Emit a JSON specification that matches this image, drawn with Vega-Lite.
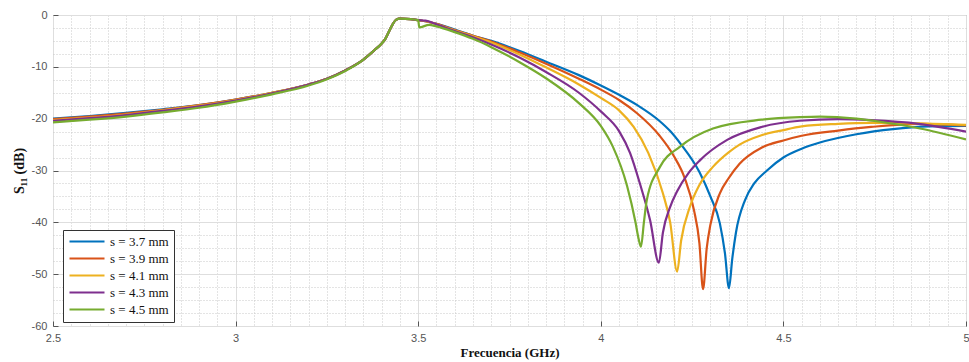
{
  "$schema": "https://vega.github.io/schema/vega-lite/v6.json",
  "autosize": {"type": "none"},
  "width": 913,
  "height": 311,
  "padding": {"left": 53, "top": 15, "right": 3, "bottom": 36},
  "background": "white",
  "config": {
    "view": {"stroke": "#8a8a8a", "strokeWidth": 1},
    "axis": {
      "domain": false,
      "ticks": true,
      "tickSize": -5,
      "labelFont": "Liberation Sans",
      "labelFontSize": 11,
      "labelColor": "#555555",
      "titleFont": "Liberation Serif",
      "titleColor": "#111111"
    }
  },
  "data": {"values": [
    {"s":"s = 3.7 mm","f":2.5,"v":-20.0},{"s":"s = 3.7 mm","f":2.6,"v":-19.5},{"s":"s = 3.7 mm","f":2.7,"v":-18.9},{"s":"s = 3.7 mm","f":2.8,"v":-18.2},{"s":"s = 3.7 mm","f":2.9,"v":-17.4},{"s":"s = 3.7 mm","f":3.0,"v":-16.3},{"s":"s = 3.7 mm","f":3.1,"v":-15.0},{"s":"s = 3.7 mm","f":3.2,"v":-13.4},{"s":"s = 3.7 mm","f":3.25,"v":-12.3},{"s":"s = 3.7 mm","f":3.3,"v":-10.7},{"s":"s = 3.7 mm","f":3.35,"v":-8.6},{"s":"s = 3.7 mm","f":3.38,"v":-6.8},{"s":"s = 3.7 mm","f":3.4,"v":-5.5},{"s":"s = 3.7 mm","f":3.41,"v":-4.6},{"s":"s = 3.7 mm","f":3.42,"v":-3.2},{"s":"s = 3.7 mm","f":3.43,"v":-1.8},{"s":"s = 3.7 mm","f":3.44,"v":-0.9},{"s":"s = 3.7 mm","f":3.45,"v":-0.7},{"s":"s = 3.7 mm","f":3.48,"v":-0.8},{"s":"s = 3.7 mm","f":3.5,"v":-1.0},
    {"s":"s = 3.7 mm","f":3.52,"v":-1.2},{"s":"s = 3.7 mm","f":3.55,"v":-1.7},{"s":"s = 3.7 mm","f":3.6,"v":-2.8},{"s":"s = 3.7 mm","f":3.65,"v":-4.0},{"s":"s = 3.7 mm","f":3.7,"v":-5.0},{"s":"s = 3.7 mm","f":3.78,"v":-7.0},{"s":"s = 3.7 mm","f":3.85,"v":-9.0},{"s":"s = 3.7 mm","f":3.94,"v":-11.6},{"s":"s = 3.7 mm","f":4.0,"v":-13.6},{"s":"s = 3.7 mm","f":4.05,"v":-15.4},{"s":"s = 3.7 mm","f":4.1,"v":-17.4},{"s":"s = 3.7 mm","f":4.16,"v":-20.4},{"s":"s = 3.7 mm","f":4.19,"v":-22.4},{"s":"s = 3.7 mm","f":4.22,"v":-25.0},{"s":"s = 3.7 mm","f":4.27,"v":-30.3},{"s":"s = 3.7 mm","f":4.3,"v":-35.0},{"s":"s = 3.7 mm","f":4.326,"v":-40.2},{"s":"s = 3.7 mm","f":4.34,"v":-46.0},{"s":"s = 3.7 mm","f":4.351,"v":-52.7},{"s":"s = 3.7 mm","f":4.36,"v":-47.0},{"s":"s = 3.7 mm","f":4.37,"v":-42.0},{"s":"s = 3.7 mm","f":4.395,"v":-35.7},{"s":"s = 3.7 mm","f":4.42,"v":-32.5},{"s":"s = 3.7 mm","f":4.455,"v":-30.0},{"s":"s = 3.7 mm","f":4.5,"v":-27.5},{"s":"s = 3.7 mm","f":4.55,"v":-25.8},{"s":"s = 3.7 mm","f":4.6,"v":-24.6},{"s":"s = 3.7 mm","f":4.7,"v":-23.0},{"s":"s = 3.7 mm","f":4.8,"v":-22.0},{"s":"s = 3.7 mm","f":4.9,"v":-21.5},{"s":"s = 3.7 mm","f":5.0,"v":-21.4},
    {"s":"s = 3.9 mm","f":2.5,"v":-20.1},{"s":"s = 3.9 mm","f":2.6,"v":-19.6},{"s":"s = 3.9 mm","f":2.7,"v":-19.0},{"s":"s = 3.9 mm","f":2.8,"v":-18.3},{"s":"s = 3.9 mm","f":2.9,"v":-17.4},{"s":"s = 3.9 mm","f":3.0,"v":-16.3},{"s":"s = 3.9 mm","f":3.1,"v":-15.0},{"s":"s = 3.9 mm","f":3.2,"v":-13.4},{"s":"s = 3.9 mm","f":3.25,"v":-12.3},{"s":"s = 3.9 mm","f":3.3,"v":-10.7},{"s":"s = 3.9 mm","f":3.35,"v":-8.6},{"s":"s = 3.9 mm","f":3.38,"v":-6.8},{"s":"s = 3.9 mm","f":3.4,"v":-5.5},{"s":"s = 3.9 mm","f":3.41,"v":-4.6},{"s":"s = 3.9 mm","f":3.42,"v":-3.2},{"s":"s = 3.9 mm","f":3.43,"v":-1.8},{"s":"s = 3.9 mm","f":3.44,"v":-0.9},{"s":"s = 3.9 mm","f":3.45,"v":-0.7},{"s":"s = 3.9 mm","f":3.48,"v":-0.8},{"s":"s = 3.9 mm","f":3.5,"v":-1.0},
    {"s":"s = 3.9 mm","f":3.52,"v":-1.2},{"s":"s = 3.9 mm","f":3.55,"v":-1.7},{"s":"s = 3.9 mm","f":3.6,"v":-2.9},{"s":"s = 3.9 mm","f":3.65,"v":-4.0},{"s":"s = 3.9 mm","f":3.7,"v":-5.1},{"s":"s = 3.9 mm","f":3.78,"v":-7.3},{"s":"s = 3.9 mm","f":3.85,"v":-9.4},{"s":"s = 3.9 mm","f":3.94,"v":-12.3},{"s":"s = 3.9 mm","f":4.0,"v":-14.4},{"s":"s = 3.9 mm","f":4.05,"v":-16.4},{"s":"s = 3.9 mm","f":4.1,"v":-19.0},{"s":"s = 3.9 mm","f":4.16,"v":-23.2},{"s":"s = 3.9 mm","f":4.2,"v":-27.2},{"s":"s = 3.9 mm","f":4.23,"v":-31.5},{"s":"s = 3.9 mm","f":4.255,"v":-37.6},{"s":"s = 3.9 mm","f":4.27,"v":-44.0},{"s":"s = 3.9 mm","f":4.28,"v":-52.9},{"s":"s = 3.9 mm","f":4.29,"v":-45.0},{"s":"s = 3.9 mm","f":4.3,"v":-40.5},{"s":"s = 3.9 mm","f":4.326,"v":-34.4},{"s":"s = 3.9 mm","f":4.35,"v":-31.5},{"s":"s = 3.9 mm","f":4.38,"v":-28.7},{"s":"s = 3.9 mm","f":4.44,"v":-25.6},{"s":"s = 3.9 mm","f":4.5,"v":-24.2},{"s":"s = 3.9 mm","f":4.55,"v":-23.3},{"s":"s = 3.9 mm","f":4.65,"v":-22.3},{"s":"s = 3.9 mm","f":4.74,"v":-21.6},{"s":"s = 3.9 mm","f":4.87,"v":-21.0},{"s":"s = 3.9 mm","f":5.0,"v":-21.3},
    {"s":"s = 4.1 mm","f":2.5,"v":-20.3},{"s":"s = 4.1 mm","f":2.6,"v":-19.8},{"s":"s = 4.1 mm","f":2.7,"v":-19.2},{"s":"s = 4.1 mm","f":2.8,"v":-18.4},{"s":"s = 4.1 mm","f":2.9,"v":-17.5},{"s":"s = 4.1 mm","f":3.0,"v":-16.4},{"s":"s = 4.1 mm","f":3.1,"v":-15.0},{"s":"s = 4.1 mm","f":3.2,"v":-13.4},{"s":"s = 4.1 mm","f":3.25,"v":-12.3},{"s":"s = 4.1 mm","f":3.3,"v":-10.7},{"s":"s = 4.1 mm","f":3.35,"v":-8.6},{"s":"s = 4.1 mm","f":3.38,"v":-6.8},{"s":"s = 4.1 mm","f":3.4,"v":-5.5},{"s":"s = 4.1 mm","f":3.41,"v":-4.6},{"s":"s = 4.1 mm","f":3.42,"v":-3.2},{"s":"s = 4.1 mm","f":3.43,"v":-1.8},{"s":"s = 4.1 mm","f":3.44,"v":-0.9},{"s":"s = 4.1 mm","f":3.45,"v":-0.7},{"s":"s = 4.1 mm","f":3.48,"v":-0.8},{"s":"s = 4.1 mm","f":3.5,"v":-1.0},
    {"s":"s = 4.1 mm","f":3.52,"v":-1.2},{"s":"s = 4.1 mm","f":3.55,"v":-1.8},{"s":"s = 4.1 mm","f":3.6,"v":-3.0},{"s":"s = 4.1 mm","f":3.65,"v":-4.1},{"s":"s = 4.1 mm","f":3.7,"v":-5.3},{"s":"s = 4.1 mm","f":3.78,"v":-7.7},{"s":"s = 4.1 mm","f":3.85,"v":-10.1},{"s":"s = 4.1 mm","f":3.94,"v":-13.4},{"s":"s = 4.1 mm","f":4.0,"v":-16.0},{"s":"s = 4.1 mm","f":4.05,"v":-18.4},{"s":"s = 4.1 mm","f":4.09,"v":-21.6},{"s":"s = 4.1 mm","f":4.13,"v":-26.6},{"s":"s = 4.1 mm","f":4.17,"v":-34.4},{"s":"s = 4.1 mm","f":4.19,"v":-40.0},{"s":"s = 4.1 mm","f":4.209,"v":-49.5},{"s":"s = 4.1 mm","f":4.22,"v":-43.5},{"s":"s = 4.1 mm","f":4.244,"v":-37.0},{"s":"s = 4.1 mm","f":4.27,"v":-32.8},{"s":"s = 4.1 mm","f":4.307,"v":-29.3},{"s":"s = 4.1 mm","f":4.35,"v":-26.5},{"s":"s = 4.1 mm","f":4.38,"v":-25.0},{"s":"s = 4.1 mm","f":4.44,"v":-23.2},{"s":"s = 4.1 mm","f":4.5,"v":-22.2},{"s":"s = 4.1 mm","f":4.55,"v":-21.5},{"s":"s = 4.1 mm","f":4.65,"v":-21.0},{"s":"s = 4.1 mm","f":4.74,"v":-20.8},{"s":"s = 4.1 mm","f":4.87,"v":-20.9},{"s":"s = 4.1 mm","f":5.0,"v":-21.2},
    {"s":"s = 4.3 mm","f":2.5,"v":-20.4},{"s":"s = 4.3 mm","f":2.6,"v":-19.9},{"s":"s = 4.3 mm","f":2.7,"v":-19.3},{"s":"s = 4.3 mm","f":2.8,"v":-18.5},{"s":"s = 4.3 mm","f":2.9,"v":-17.6},{"s":"s = 4.3 mm","f":3.0,"v":-16.5},{"s":"s = 4.3 mm","f":3.1,"v":-15.1},{"s":"s = 4.3 mm","f":3.2,"v":-13.4},{"s":"s = 4.3 mm","f":3.25,"v":-12.3},{"s":"s = 4.3 mm","f":3.3,"v":-10.7},{"s":"s = 4.3 mm","f":3.35,"v":-8.6},{"s":"s = 4.3 mm","f":3.38,"v":-6.8},{"s":"s = 4.3 mm","f":3.4,"v":-5.5},{"s":"s = 4.3 mm","f":3.41,"v":-4.6},{"s":"s = 4.3 mm","f":3.42,"v":-3.2},{"s":"s = 4.3 mm","f":3.43,"v":-1.8},{"s":"s = 4.3 mm","f":3.44,"v":-0.9},{"s":"s = 4.3 mm","f":3.45,"v":-0.7},{"s":"s = 4.3 mm","f":3.48,"v":-0.8},{"s":"s = 4.3 mm","f":3.5,"v":-1.0},
    {"s":"s = 4.3 mm","f":3.52,"v":-1.1},{"s":"s = 4.3 mm","f":3.55,"v":-1.8},{"s":"s = 4.3 mm","f":3.6,"v":-3.1},{"s":"s = 4.3 mm","f":3.65,"v":-4.3},{"s":"s = 4.3 mm","f":3.7,"v":-5.7},{"s":"s = 4.3 mm","f":3.78,"v":-8.3},{"s":"s = 4.3 mm","f":3.85,"v":-11.0},{"s":"s = 4.3 mm","f":3.94,"v":-15.0},{"s":"s = 4.3 mm","f":4.0,"v":-18.6},{"s":"s = 4.3 mm","f":4.05,"v":-22.4},{"s":"s = 4.3 mm","f":4.08,"v":-26.6},{"s":"s = 4.3 mm","f":4.107,"v":-32.5},{"s":"s = 4.3 mm","f":4.135,"v":-39.6},{"s":"s = 4.3 mm","f":4.159,"v":-47.8},{"s":"s = 4.3 mm","f":4.17,"v":-42.0},{"s":"s = 4.3 mm","f":4.19,"v":-37.0},{"s":"s = 4.3 mm","f":4.209,"v":-34.0},{"s":"s = 4.3 mm","f":4.24,"v":-30.5},{"s":"s = 4.3 mm","f":4.272,"v":-28.0},{"s":"s = 4.3 mm","f":4.346,"v":-24.1},{"s":"s = 4.3 mm","f":4.44,"v":-21.6},{"s":"s = 4.3 mm","f":4.545,"v":-20.4},{"s":"s = 4.3 mm","f":4.65,"v":-20.1},{"s":"s = 4.3 mm","f":4.74,"v":-20.3},{"s":"s = 4.3 mm","f":4.87,"v":-21.0},{"s":"s = 4.3 mm","f":5.0,"v":-22.5},
    {"s":"s = 4.5 mm","f":2.5,"v":-20.7},{"s":"s = 4.5 mm","f":2.6,"v":-20.2},{"s":"s = 4.5 mm","f":2.7,"v":-19.6},{"s":"s = 4.5 mm","f":2.8,"v":-18.8},{"s":"s = 4.5 mm","f":2.9,"v":-17.9},{"s":"s = 4.5 mm","f":3.0,"v":-16.7},{"s":"s = 4.5 mm","f":3.1,"v":-15.3},{"s":"s = 4.5 mm","f":3.2,"v":-13.6},{"s":"s = 4.5 mm","f":3.25,"v":-12.4},{"s":"s = 4.5 mm","f":3.3,"v":-10.8},{"s":"s = 4.5 mm","f":3.35,"v":-8.6},{"s":"s = 4.5 mm","f":3.38,"v":-6.8},{"s":"s = 4.5 mm","f":3.4,"v":-5.5},{"s":"s = 4.5 mm","f":3.41,"v":-4.6},{"s":"s = 4.5 mm","f":3.42,"v":-3.2},{"s":"s = 4.5 mm","f":3.43,"v":-1.8},{"s":"s = 4.5 mm","f":3.44,"v":-0.9},{"s":"s = 4.5 mm","f":3.45,"v":-0.7},{"s":"s = 4.5 mm","f":3.48,"v":-0.8},{"s":"s = 4.5 mm","f":3.5,"v":-1.0},
    {"s":"s = 4.5 mm","f":3.503,"v":-2.4},{"s":"s = 4.5 mm","f":3.53,"v":-1.9},{"s":"s = 4.5 mm","f":3.55,"v":-2.2},{"s":"s = 4.5 mm","f":3.6,"v":-3.3},{"s":"s = 4.5 mm","f":3.65,"v":-4.6},{"s":"s = 4.5 mm","f":3.7,"v":-6.2},{"s":"s = 4.5 mm","f":3.78,"v":-9.2},{"s":"s = 4.5 mm","f":3.85,"v":-12.2},{"s":"s = 4.5 mm","f":3.94,"v":-17.0},{"s":"s = 4.5 mm","f":4.0,"v":-21.4},{"s":"s = 4.5 mm","f":4.033,"v":-25.4},{"s":"s = 4.5 mm","f":4.072,"v":-33.0},{"s":"s = 4.5 mm","f":4.095,"v":-40.0},{"s":"s = 4.5 mm","f":4.103,"v":-43.0},{"s":"s = 4.5 mm","f":4.11,"v":-44.7},{"s":"s = 4.5 mm","f":4.118,"v":-40.0},{"s":"s = 4.5 mm","f":4.126,"v":-35.7},{"s":"s = 4.5 mm","f":4.162,"v":-29.3},{"s":"s = 4.5 mm","f":4.217,"v":-25.4},{"s":"s = 4.5 mm","f":4.307,"v":-21.9},{"s":"s = 4.5 mm","f":4.44,"v":-20.2},{"s":"s = 4.5 mm","f":4.545,"v":-19.7},{"s":"s = 4.5 mm","f":4.6,"v":-19.6},{"s":"s = 4.5 mm","f":4.7,"v":-20.0},{"s":"s = 4.5 mm","f":4.765,"v":-20.6},{"s":"s = 4.5 mm","f":4.874,"v":-21.9},{"s":"s = 4.5 mm","f":5.0,"v":-24.0}
  ]},
  "mark": {"type": "line", "strokeWidth": 2.2, "interpolate": "monotone", "clip": true},
  "encoding": {
    "x": {
      "field": "f", "type": "quantitative",
      "scale": {"domain": [2.5, 5], "nice": false, "zero": false},
      "axis": {
        "title": "Frecuencia (GHz)",
        "titleFontSize": 13, "titleFontWeight": "bold", "titlePadding": 3,
        "labelPadding": 11, "labelFlush": false,
        "values": [2.5,2.55,2.6,2.65,2.7,2.75,2.8,2.85,2.9,2.95,3,3.05,3.1,3.15,3.2,3.25,3.3,3.35,3.4,3.45,3.5,3.55,3.6,3.65,3.7,3.75,3.8,3.85,3.9,3.95,4,4.05,4.1,4.15,4.2,4.25,4.3,4.35,4.4,4.45,4.5,4.55,4.6,4.65,4.7,4.75,4.8,4.85,4.9,4.95,5],
        "labelExpr": "abs(round(datum.value*2) - datum.value*2) < 0.001 ? '' + (round(datum.value*2)/2) : ''",
        "tickColor": {"condition": {"test": "abs(round(datum.value*2) - datum.value*2) < 0.001", "value": "#555555"}, "value": "transparent"},
        "gridColor": {"condition": {"test": "abs(round(datum.value*2) - datum.value*2) < 0.001", "value": "#dedede"}, "value": "#c8c8c8"},
        "gridDash": {"condition": {"test": "abs(round(datum.value*2) - datum.value*2) < 0.001", "value": []}, "value": [1, 2]},
        "gridWidth": 1
      }
    },
    "y": {
      "field": "v", "type": "quantitative",
      "scale": {"domain": [-60, 0], "nice": false, "zero": false},
      "axis": {
        "title": "S₁₁ (dB)",
        "titleFontSize": 14, "titleFontWeight": "bold", "titlePadding": 5,
        "labelPadding": 11, "labelFlush": false,
        "values": [-60,-57.5,-55,-52.5,-50,-47.5,-45,-42.5,-40,-37.5,-35,-32.5,-30,-27.5,-25,-22.5,-20,-17.5,-15,-12.5,-10,-7.5,-5,-2.5,0],
        "labelExpr": "abs(datum.value % 10) < 0.001 ? '' + datum.value : ''",
        "tickColor": {"condition": {"test": "abs(datum.value % 10) < 0.001", "value": "#555555"}, "value": "transparent"},
        "gridColor": {"condition": {"test": "abs(datum.value % 10) < 0.001", "value": "#dedede"}, "value": "#c8c8c8"},
        "gridDash": {"condition": {"test": "abs(datum.value % 10) < 0.001", "value": []}, "value": [1, 2]},
        "gridWidth": 1
      }
    },
    "color": {
      "field": "s", "type": "nominal",
      "scale": {
        "domain": ["s = 3.7 mm", "s = 3.9 mm", "s = 4.1 mm", "s = 4.3 mm", "s = 4.5 mm"],
        "range": ["#0072BD", "#D95319", "#EDB120", "#7E2F8E", "#77AC30"]
      },
      "legend": {
        "title": null,
        "orient": "none",
        "legendX": 10,
        "legendY": 215,
        "symbolType": "M-1,0H6",
        "symbolSize": 100,
        "symbolStrokeWidth": 2.2,
        "symbolFillColor": "transparent",
        "labelFont": "Liberation Serif",
        "labelFontSize": 13,
        "labelColor": "#111111",
        "labelOffset": 29,
        "rowPadding": 3,
        "padding": 5,
        "strokeColor": "#333333",
        "fillColor": "white",
        "cornerRadius": 0
      }
    }
  }
}
